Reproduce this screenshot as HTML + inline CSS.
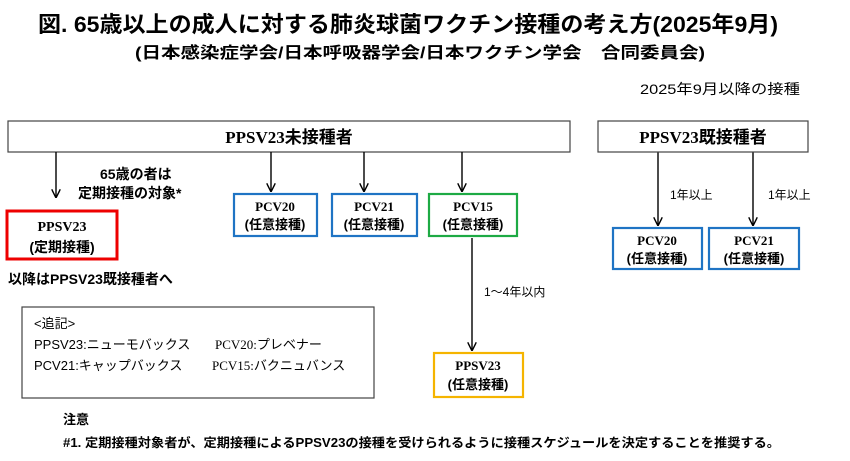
<!DOCTYPE html>
<html><head><meta charset="utf-8"><style>
body{margin:0;background:#fff;width:850px;height:456px;overflow:hidden}
svg text{font-family:"Liberation Sans","Noto Sans CJK JP",sans-serif}
.s{font-family:"Liberation Serif","Noto Sans CJK JP",serif !important}
</style></head><body>
<svg width="850" height="456" viewBox="0 0 850 456" xmlns="http://www.w3.org/2000/svg">
<defs><marker id="a" viewBox="0 0 10 10" refX="9" refY="5" markerWidth="9" markerHeight="9" orient="auto" markerUnits="userSpaceOnUse"><path d="M0,0 L10,5 L0,10" fill="none" stroke="#000" stroke-width="1.6"/></marker></defs>
<text x="38" y="32" font-size="22" font-weight="bold" textLength="740" lengthAdjust="spacingAndGlyphs">図. 65歳以上の成人に対する肺炎球菌ワクチン接種の考え方(2025年9月)</text>
<text x="135" y="58" font-size="16" font-weight="bold" textLength="570" lengthAdjust="spacingAndGlyphs">(日本感染症学会/日本呼吸器学会/日本ワクチン学会　合同委員会)</text>
<text x="640" y="94" font-size="14" textLength="160" lengthAdjust="spacingAndGlyphs">2025年9月以降の接種</text>

<rect x="8" y="121" width="562" height="31" fill="#fff" stroke="#444" stroke-width="1.2"/>
<text class="s" x="289" y="143" font-size="17" font-weight="bold" text-anchor="middle">PPSV23未接種者</text>
<g stroke="#000" stroke-width="1.4">
<line x1="56" y1="152" x2="56" y2="197" marker-end="url(#a)"/>
<line x1="271" y1="152" x2="271" y2="191" marker-end="url(#a)"/>
<line x1="364" y1="152" x2="364" y2="191" marker-end="url(#a)"/>
<line x1="462" y1="152" x2="462" y2="191" marker-end="url(#a)"/>
<line x1="472" y1="238" x2="472" y2="350" marker-end="url(#a)"/>
<line x1="658" y1="152" x2="658" y2="225" marker-end="url(#a)"/>
<line x1="753" y1="152" x2="753" y2="225" marker-end="url(#a)"/>
</g>
<text x="100" y="179" font-size="14" font-weight="bold">65歳の者は</text>
<text x="78" y="198" font-size="14" font-weight="bold">定期接種の対象*</text>

<rect x="7" y="211" width="110" height="48" fill="#fff" stroke="#e00" stroke-width="3"/>
<text class="s" x="62" y="231" font-size="14" font-weight="bold" text-anchor="middle">PPSV23</text>
<text x="62" y="252" font-size="14" font-weight="bold" text-anchor="middle">(定期接種)</text>
<text x="8" y="284" font-size="14" font-weight="bold">以降はPPSV23既接種者へ</text>

<g fill="#fff" stroke-width="2.2">
<rect x="234" y="194" width="83" height="42" stroke="#1f74c4"/>
<rect x="332" y="194" width="85" height="42" stroke="#1f74c4"/>
<rect x="429" y="194" width="88" height="42" stroke="#1daa44"/>
<rect x="613" y="228" width="89" height="41" stroke="#1f74c4"/>
<rect x="709" y="228" width="90" height="41" stroke="#1f74c4"/>
<rect x="434" y="353" width="89" height="44" stroke="#f5b400"/>
</g>
<g font-size="13" font-weight="bold" text-anchor="middle">
<text class="s" x="275" y="211">PCV20</text><text x="275" y="229">(任意接種)</text>
<text class="s" x="374" y="211">PCV21</text><text x="374" y="229">(任意接種)</text>
<text class="s" x="473" y="211">PCV15</text><text x="473" y="229">(任意接種)</text>
<text class="s" x="657" y="245">PCV20</text><text x="657" y="263">(任意接種)</text>
<text class="s" x="754" y="245">PCV21</text><text x="754" y="263">(任意接種)</text>
<text class="s" x="478" y="370">PPSV23</text><text x="478" y="389">(任意接種)</text>
</g>

<rect x="598" y="121" width="210" height="31" fill="#fff" stroke="#444" stroke-width="1.2"/>
<text class="s" x="703" y="143" font-size="17" font-weight="bold" text-anchor="middle">PPSV23既接種者</text>
<text x="670" y="199" font-size="12">1年以上</text>
<text x="768" y="199" font-size="12">1年以上</text>
<text x="484" y="296" font-size="12">1～4年以内</text>

<rect x="22" y="307" width="352" height="91" fill="#fff" stroke="#444" stroke-width="1.2"/>
<g font-size="13">
<text x="34" y="328">&lt;追記&gt;</text>
<text x="34" y="349">PPSV23:ニューモバックス</text>
<text class="s" x="215" y="349">PCV20:プレベナー</text>
<text x="34" y="370">PCV21:キャップバックス</text>
<text class="s" x="212" y="370">PCV15:バクニュバンス</text>
</g>
<text x="63" y="424" font-size="13" font-weight="bold">注意</text>
<text x="63" y="447" font-size="12.5" font-weight="bold" textLength="717" lengthAdjust="spacingAndGlyphs">#1. 定期接種対象者が、定期接種によるPPSV23の接種を受けられるように接種スケジュールを決定することを推奨する。</text>
</svg>
</body></html>
